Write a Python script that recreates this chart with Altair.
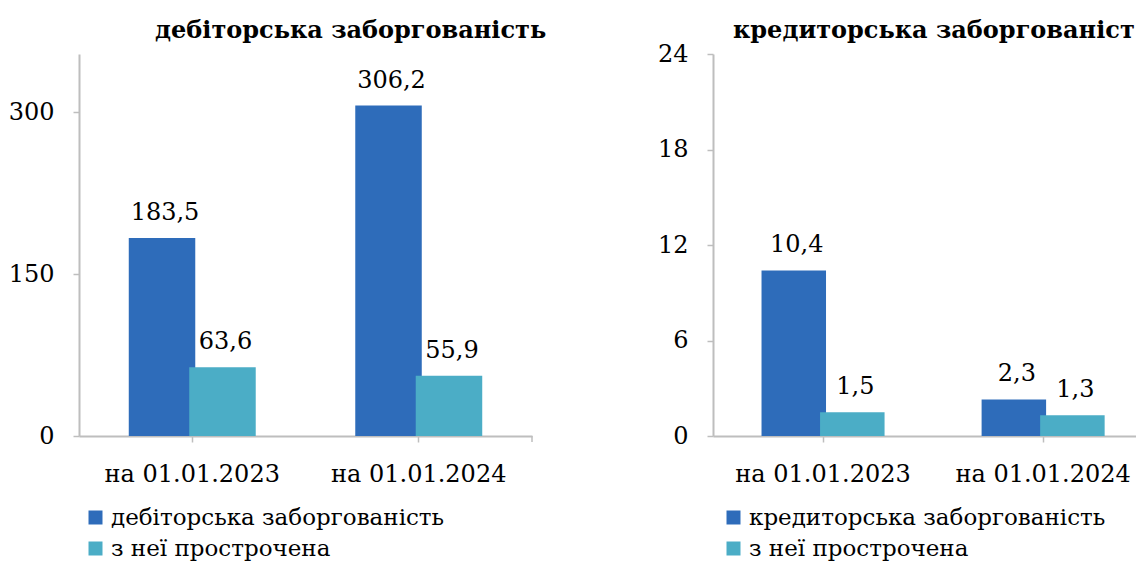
import altair as alt
import pandas as pd

categories = ["на 01.01.2023", "на 01.01.2024"]

debit_names = ["дебіторська заборгованість", "з неї прострочена"]
debit_total = [183.5, 306.2]
debit_overdue = [63.6, 55.9]

credit_names = ["кредиторська заборгованість", "з неї прострочена"]
credit_total = [10.4, 2.3]
credit_overdue = [1.5, 1.3]

left_ticks = [0, 150, 300]
right_ticks = [0, 6, 12, 18, 24]

left_title = "дебіторська заборгованість"
right_title = "кредиторська заборгованість"

BLUE = "#2E6CBA"
TEAL = "#4BADC6"
AXIS = "#BEBEBE"
FONT = "DejaVu Serif"
FS = 24
LFS = 23
H = 382


def build_df(names, a, b):
    rows = []
    for name, vals in zip(names, [a, b]):
        for c, v in zip(categories, vals):
            rows.append({"cat": c, "series": name, "value": v,
                         "label": f"{v:.1f}".replace(".", ",")})
    return pd.DataFrame(rows)


def panel(names, a, b, ymax, ticks, width, p_in, p_out, align, bar_w,
          title, title_dx, title_limit, legend_x, end_tick):
    df = build_df(names, a, b)
    x = alt.X("cat:N", sort=categories, title=None,
              scale=alt.Scale(paddingInner=p_in, paddingOuter=p_out, align=align),
              axis=alt.Axis(labelAngle=0, labelFont=FONT, labelFontSize=FS,
                            labelColor="black", labelPadding=20, tickSize=6,
                            tickColor=AXIS, tickWidth=1.5, domainColor=AXIS,
                            domainWidth=2))
    xo = alt.XOffset("series:N", sort=names,
                     scale=alt.Scale(paddingInner=0, paddingOuter=0))
    y = alt.Y("value:Q", title=None,
              scale=alt.Scale(domain=[0, ymax], nice=False, zero=True),
              axis=alt.Axis(values=ticks, grid=False, labelFont=FONT,
                            labelFontSize=FS, labelColor="black",
                            labelPadding=19, tickSize=6, tickColor=AXIS,
                            tickWidth=1.5, domainColor=AXIS, domainWidth=2))
    color = alt.Color("series:N", sort=names,
                      scale=alt.Scale(domain=names, range=[BLUE, TEAL]),
                      legend=alt.Legend(title=None, orient="none",
                                        legendX=legend_x, legendY=452,
                                        direction="vertical",
                                        symbolType="square", symbolSize=196,
                                        symbolStrokeWidth=0,
                                        labelFont=FONT, labelFontSize=LFS,
                                        labelColor="black", labelLimit=700,
                                        rowPadding=7, labelOffset=4,
                                        padding=0))
    base = alt.Chart(df)
    bars = base.mark_bar(width=bar_w).encode(x=x, xOffset=xo, y=y, color=color)
    labels = base.mark_text(font=FONT, fontSize=FS, baseline="alphabetic",
                            dy=-18, dx=3, color="black").encode(
        x=x, xOffset=xo, y=y, text="label:N")
    ttl = alt.Chart(pd.DataFrame({"t": [title]})).mark_text(
        font=FONT, fontSize=FS, fontWeight="bold", align="left",
        baseline="alphabetic", color="black", limit=title_limit,
        ellipsis="\u200b").encode(
        text="t:N", x=alt.value(title_dx), y=alt.value(-16))
    layers = [bars, labels, ttl]
    if end_tick:
        layers.append(alt.Chart(pd.DataFrame({"t": [0]})).mark_rule(
            color=AXIS, strokeWidth=1.5).encode(
            x=alt.value(width), y=alt.value(H), y2=alt.value(H + 6)))
    return alt.layer(*layers).properties(width=width, height=H)


left = panel(debit_names, debit_total, debit_overdue, 354, left_ticks,
             453, 0.466, 0.233, 0.5, 66.5, left_title, 76, 600, 5, True)
right = panel(credit_names, credit_total, credit_overdue, 24, right_ticks,
              423, 0.468, 0.195, 0.6, 64.5, right_title, 20, 403, 9, False)

chart = alt.hconcat(left, right, spacing=181, bounds="flush").resolve_scale(
    color="independent", x="independent", y="independent", xOffset="independent"
).properties(padding={"left": 0, "top": 11, "right": 0, "bottom": 0}
).configure_view(strokeWidth=0)

chart.save("out.html", embed_options={"renderer": "svg", "actions": False})
